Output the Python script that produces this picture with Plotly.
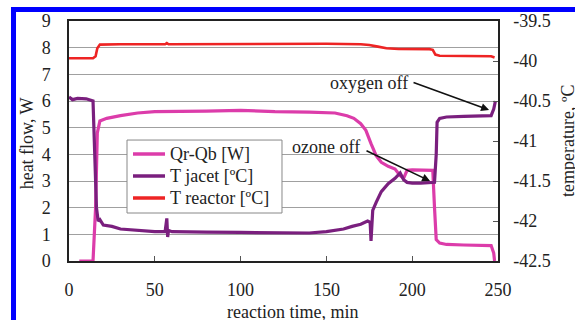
import plotly.graph_objects as go

# Heat flow difference Qr-Qb (W) against reaction time (min)
t_q = [6, 14, 15.5, 16.5, 18, 22, 30, 40, 50, 60, 80, 100, 120, 140, 155, 162, 166,
       170, 173, 176, 179, 182, 186, 190, 193, 195, 197, 200, 205, 210, 212, 213, 214,
       216, 220, 230, 240, 246, 247.5, 248]
q_w = [0, 0, 2.0, 4.8, 5.25, 5.35, 5.45, 5.55, 5.6, 5.6, 5.62, 5.65, 5.6, 5.58, 5.55, 5.45, 5.35,
       5.15, 4.9, 4.4, 3.95, 3.7, 3.55, 3.45, 3.2, 3.1, 3.4, 3.42, 3.42, 3.42, 3.4, 2.0, 0.8,
       0.67, 0.62, 0.6, 0.6, 0.58, 0.3, 0]

# Jacket temperature (deg C)
t_j = [0, 2, 5, 10, 14, 15, 16, 17, 18, 20, 25, 30, 40, 50, 56, 57, 57.5, 58, 60, 70, 80,
       100, 120, 140, 150, 160, 165, 170, 174, 175.5, 176, 177, 179, 182, 186, 190, 193,
       195, 197, 200, 205, 210, 213, 214, 214.5, 216, 220, 230, 240, 246, 247.5, 248.5]
temp_j = [-40.45, -40.483, -40.467, -40.473, -40.5, -41.167, -41.833, -42.0, -41.983, -42.05,
          -42.067, -42.1, -42.117, -42.133, -42.133, -41.967, -42.2, -42.117, -42.133, -42.133,
          -42.14, -42.143, -42.15, -42.15, -42.133, -42.1, -42.067, -42.04, -42.0, -42.017,
          -42.25, -41.867, -41.767, -41.633, -41.533, -41.467, -41.4, -41.483, -41.517,
          -41.527, -41.527, -41.517, -41.517, -41.167, -40.767, -40.717, -40.7, -40.693,
          -40.683, -40.683, -40.6, -40.5]

# Reactor temperature (deg C)
t_r = [0, 14, 15.5, 16.5, 18, 30, 56, 57, 58, 100, 150, 170, 175, 180, 185, 192, 200, 210,
       212, 213.5, 216, 230, 246, 248]
temp_r = [-39.965, -39.965, -39.94, -39.84, -39.795, -39.79, -39.79, -39.775, -39.79,
          -39.785, -39.785, -39.79, -39.8, -39.82, -39.84, -39.85, -39.85, -39.852, -39.86,
          -39.92, -39.935, -39.94, -39.94, -39.955]

x_ticks = [0, 50, 100, 150, 200, 250]
y_ticks = [0, 1, 2, 3, 4, 5, 6, 7, 8, 9]
y2_ticks = [-42.5, -42, -41.5, -41, -40.5, -40, -39.5]
y2_labels = ["-42.5", "-42", "-41.5", "-41", "-40.5", "-40", "-39.5"]

series_names = ["Qr-Qb [W]", "T jacet [ºC]", "T reactor [ºC]"]

FONT = "Liberation Serif, Times New Roman, serif"
MAGENTA = "#DC3CAA"
PURPLE = "#7A1F7E"
RED = "#EE2424"
COLORS = [MAGENTA, PURPLE, RED]

fig = go.Figure()
fig.add_trace(go.Scatter(x=t_q, y=q_w, mode="lines", name=series_names[0],
                         line=dict(color=MAGENTA, width=3.2)))
fig.add_trace(go.Scatter(x=t_j, y=temp_j, mode="lines", name=series_names[1], yaxis="y2",
                         line=dict(color=PURPLE, width=3.2)))
fig.add_trace(go.Scatter(x=t_r, y=temp_r, mode="lines", name=series_names[2], yaxis="y2",
                         line=dict(color=RED, width=2.6)))

fig.update_layout(
    width=575, height=320,
    margin=dict(l=69, r=77, t=21, b=59),
    paper_bgcolor="white", plot_bgcolor="white",
    font=dict(family=FONT, size=18, color="#222"),
    showlegend=False,
    xaxis=dict(range=[0, 250], tickvals=x_ticks, ticks="inside", ticklen=5,
               tickcolor="#555", showgrid=False, zeroline=False,
               showline=True, linecolor="#222", linewidth=1.5, mirror=True,
               ticklabelstandoff=12),
    yaxis=dict(range=[0, 9], tickvals=y_ticks, ticks="", showgrid=True,
               gridcolor="#A0A0A0", gridwidth=1, zeroline=False,
               showline=True, linecolor="#222", linewidth=1.5, mirror=True,
               ticklabelstandoff=13),
    yaxis2=dict(range=[-42.5, -39.5], overlaying="y", side="right",
                tickvals=y2_ticks, ticktext=y2_labels, ticks="inside", ticklen=5,
                tickcolor="#555", showgrid=False, zeroline=False,
                showline=True, linecolor="#222", linewidth=1.5,
                ticklabelstandoff=10),
)

# Axis titles
fig.add_annotation(text="heat flow, W", xref="paper", yref="paper", x=-0.098, y=0.49,
                   xanchor="center", yanchor="middle",
                   textangle=-90, showarrow=False, font=dict(size=18))
fig.add_annotation(text="temperature, ºC", xref="paper", yref="paper", x=1.163, y=0.504,
                   xanchor="center", yanchor="middle",
                   textangle=-90, showarrow=False, font=dict(size=18))
fig.add_annotation(text="reaction time, min", xref="paper", yref="paper", x=0.52, y=-0.214,
                   xanchor="center", yanchor="middle",
                   showarrow=False, font=dict(size=18))

# Legend box drawn inside the plot area
fig.add_shape(type="rect", xref="paper", yref="paper", x0=0.1352, x1=0.4965,
              y0=0.2, y1=0.504, fillcolor="white", line=dict(color="#888", width=1),
              layer="above")
legend_rows = [0.4458, 0.3542, 0.2625]
for name, color, yy in zip(series_names, COLORS, legend_rows):
    fig.add_shape(type="line", xref="paper", yref="paper", x0=0.1492, x1=0.2238,
                  y0=yy, y1=yy, line=dict(color=color, width=3.5), layer="above")
    fig.add_annotation(text=name, xref="paper", yref="paper", x=0.2308, y=yy,
                       xanchor="left", yanchor="middle", showarrow=False,
                       font=dict(size=18))

# Event labels with arrows
fig.add_annotation(text="oxygen off", x=174.8, y=6.67, xref="x", yref="y",
                   showarrow=False, font=dict(size=18))
fig.add_annotation(text="", x=244.8, y=5.66, ax=199.9, ay=6.71, xref="x", yref="y",
                   axref="x", ayref="y", showarrow=True, arrowhead=2, arrowsize=1,
                   arrowwidth=1.6, arrowcolor="#111")
fig.add_annotation(text="ozone off", x=149.8, y=4.29, xref="x", yref="y",
                   showarrow=False, font=dict(size=18))
fig.add_annotation(text="", x=210.4, y=3.0, ax=172.5, ay=4.16, xref="x", yref="y",
                   axref="x", ayref="y", showarrow=True, arrowhead=2, arrowsize=1,
                   arrowwidth=1.6, arrowcolor="#111")

# Blue frame along the top and left edges
fig.add_shape(type="rect", xref="paper", yref="paper", x0=-0.1352, x1=-0.1235,
              y0=-0.26, y1=1.0583, fillcolor="#0000FF", line=dict(width=0))
fig.add_shape(type="rect", xref="paper", yref="paper", x0=-0.1352, x1=1.2,
              y0=1.0375, y1=1.0583, fillcolor="#0000FF", line=dict(width=0))

fig.write_html("out.html")
